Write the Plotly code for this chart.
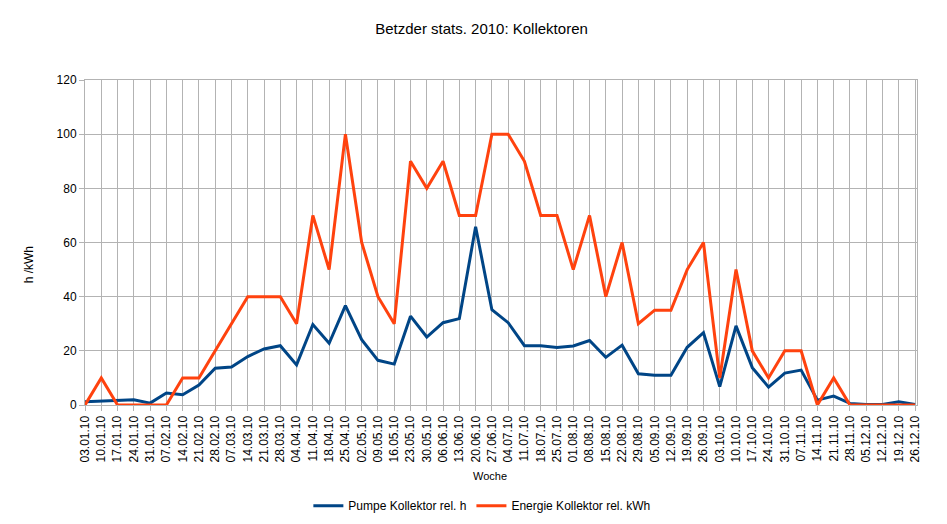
import plotly.graph_objects as go

weeks = ["03.01.10", "10.01.10", "17.01.10", "24.01.10", "31.01.10", "07.02.10", "14.02.10",
         "21.02.10", "28.02.10", "07.03.10", "14.03.10", "21.03.10", "28.03.10", "04.04.10",
         "11.04.10", "18.04.10", "25.04.10", "02.05.10", "09.05.10", "16.05.10", "23.05.10",
         "30.05.10", "06.06.10", "13.06.10", "20.06.10", "27.06.10", "04.07.10", "11.07.10",
         "18.07.10", "25.07.10", "01.08.10", "08.08.10", "15.08.10", "22.08.10", "29.08.10",
         "05.09.10", "12.09.10", "19.09.10", "26.09.10", "03.10.10", "10.10.10", "17.10.10",
         "24.10.10", "31.10.10", "07.11.10", "14.11.10", "21.11.10", "28.11.10", "05.12.10",
         "12.12.10", "19.12.10", "26.12.10"]

pumpe = [1.2, 1.4, 1.6, 1.9, 0.7, 4.4, 3.8, 7.4, 13.6, 14.0, 17.9, 20.7, 21.9, 14.8,
         29.7, 22.8, 36.7, 24.1, 16.5, 15.1, 32.8, 25.1, 30.4, 31.9, 65.8, 35.2, 30.4,
         21.9, 21.9, 21.2, 21.8, 23.8, 17.6, 22.1, 11.5, 11.0, 11.0, 21.3, 26.7, 6.8,
         29.2, 13.8, 6.6, 11.8, 12.9, 1.8, 3.3, 0.6, 0.2, 0.2, 1.2, 0.2]

energie = [0, 10, 0, 0, 0, 0, 10, 10, 20, 30, 40, 40, 40, 30, 70, 50, 100, 60, 40, 30,
           90, 80, 90, 70, 70, 100, 100, 90, 70, 70, 50, 70, 40, 60, 30, 35, 35, 50, 60,
           10, 50, 20, 10, 20, 20, 0, 10, 0, 0, 0, 0, 0]

x_idx = list(range(len(weeks)))

fig = go.Figure()
fig.add_trace(go.Scatter(x=x_idx, y=pumpe, mode="lines", name="Pumpe Kollektor rel. h",
                         line=dict(color="#004586", width=3)))
fig.add_trace(go.Scatter(x=x_idx, y=energie, mode="lines", name="Energie Kollektor rel. kWh",
                         line=dict(color="#ff420e", width=3)))

font_family = "Liberation Sans, Arial, sans-serif"
fig.update_layout(
    width=947, height=524,
    margin=dict(l=77, r=38, t=72, b=117),
    paper_bgcolor="white", plot_bgcolor="white",
    font=dict(family=font_family, size=12, color="black"),
    title=dict(text="Betzder stats. 2010: Kollektoren", x=0.5, xanchor="center",
               y=1 - 21 / 524, yanchor="middle", font=dict(size=15, color="black")),
    showlegend=True,
    legend=dict(orientation="h", x=0.477, xanchor="center", y=-0.31, yanchor="middle",
                font=dict(size=12), itemwidth=30, bgcolor="rgba(0,0,0,0)"),
    xaxis=dict(
        tickmode="array", tickvals=x_idx, ticktext=weeks, tickangle=-90,
        range=[0, 51.12], showgrid=True, gridcolor="#b3b3b3", gridwidth=1,
        showline=True, linecolor="#b3b3b3", linewidth=1, mirror=True,
        ticks="outside", ticklen=5, tickcolor="#b3b3b3",
        tickfont=dict(size=12), zeroline=False,
    ),
    yaxis=dict(
        range=[0, 120], dtick=20, showgrid=True, gridcolor="#b3b3b3", gridwidth=1,
        showline=True, linecolor="#b3b3b3", linewidth=1, mirror=True,
        ticks="outside", ticklen=5, tickcolor="#b3b3b3",
        tickfont=dict(size=12), zeroline=False,
    ),
    annotations=[
        dict(text="h /kWh", textangle=-90, xref="paper", yref="paper",
             x=(21 - 77) / 832, y=(407 - 263) / 335, xanchor="center", yanchor="middle",
             showarrow=False, font=dict(size=12)),
        dict(text="Woche", xref="paper", yref="paper",
             x=(482 - 77) / 832, y=(407 - 480) / 335, xanchor="center", yanchor="middle",
             showarrow=False, font=dict(size=11)),
    ],
)

fig.write_html("out.html")
